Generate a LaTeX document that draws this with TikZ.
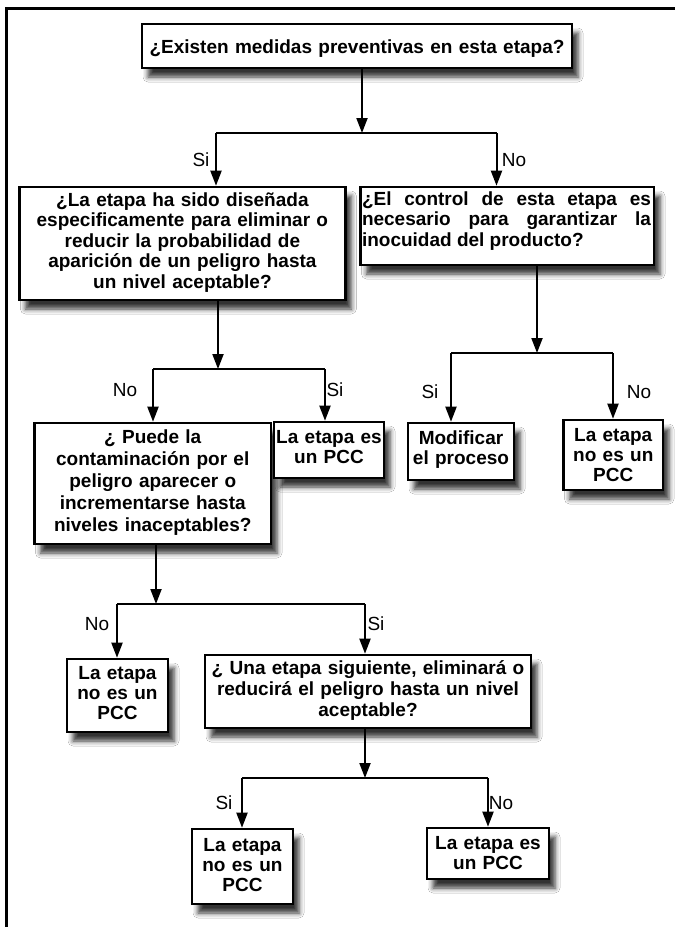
\documentclass[tikz,border=0pt]{standalone}
\usepackage{fontspec}
\setmainfont{Liberation Sans}
\usetikzlibrary{arrows.meta,shadows.blur}
\hyphenpenalty=10000
\exhyphenpenalty=10000
\tolerance=10000
\begin{document}
\begin{tikzpicture}[x=1pt,y=-1pt,
  box/.style={draw=black, line width=2.6pt, fill=white, inner sep=0pt,
    blur shadow={shadow xshift=6pt, shadow yshift=-9pt,
      shadow blur radius=5pt, shadow opacity=80}},
  boxtext/.style={inner sep=0pt, anchor=base, align=center,
    font=\bfseries\fontsize{19}{#1}\selectfont},
  boxtext/.default=20,
  lab/.style={inner sep=0pt, font=\fontsize{19}{20}\selectfont},
  conn/.style={line width=2pt},
  arr/.style={conn, -{Triangle[length=15pt,width=11pt]}},
  frame/.style={line width=3pt}
]
\useasboundingbox (0,0) rectangle (675,927);
\fill[white] (0,0) rectangle (675,927);

% outer frame (top and left edges only)
\draw[frame] (6.5,927) -- (6.5,8) -- (675,8);

% ---------- boxes ----------
\node[box, minimum width=430pt, minimum height=44pt] (b1) at (357,46) {};
\node[boxtext, text width=430pt] (b1t) at (357,53)
  {¿Existen medidas preventivas en esta etapa?};

\node[box, minimum width=326pt, minimum height=113pt] (b2) at (182.4,243.5) {};
\node[boxtext=20.5, text width=326pt] (b2t) at (182.4,206)
  {¿La etapa ha sido diseñada\\
   especificamente para eliminar o\\
   reducir la probabilidad de\\
   aparición de un peligro hasta\\
   un nivel aceptable?};

\node[box, minimum width=293.5pt, minimum height=78pt] (b3) at (507.25,226) {};
\node[boxtext=20.5, align=justify, text width=289pt] (b3t) at (506.5,205)
  {¿El control de esta etapa es necesario para garantizar la inocuidad del producto?};

\node[box, minimum width=236.5pt, minimum height=121pt] (b4) at (152.75,483.5) {};
\node[boxtext=22, text width=236.5pt] (b4t) at (152.75,443)
  {¿ Puede la\\ contaminación por el\\ peligro aparecer o\\
   incrementarse hasta\\ niveles inaceptables?};

\node[box, minimum width=110pt, minimum height=56pt] (b5) at (329,450) {};
\node[boxtext, text width=110pt] (b5t) at (329,443) {La etapa es\\ un PCC};

\node[box, minimum width=106pt, minimum height=57pt] (b6) at (461,451.5) {};
\node[boxtext, text width=106pt] (b6t) at (461,444) {Modificar\\ el proceso};

\node[box, minimum width=99.5pt, minimum height=70pt] (b7) at (613.25,455) {};
\node[boxtext, text width=99.5pt] (b7t) at (613.25,441) {La etapa\\ no es un\\ PCC};

\node[box, minimum width=101pt, minimum height=73pt] (b8) at (117.5,695.5) {};
\node[boxtext, text width=101pt] (b8t) at (117.5,679) {La etapa\\ no es un\\ PCC};

\node[box, minimum width=326pt, minimum height=73pt] (b9) at (368,691.5) {};
\node[boxtext=21, text width=326pt] (b9t) at (368,674)
  {¿ Una etapa siguiente, eliminará o\\ reducirá el peligro hasta un nivel\\ aceptable?};

\node[box, minimum width=101pt, minimum height=75pt] (b10) at (242.5,866.5) {};
\node[boxtext, text width=101pt] (b10t) at (242.5,851) {La etapa\\ no es un\\ PCC};

\node[box, minimum width=122pt, minimum height=51pt] (b11) at (488,853.5) {};
\node[boxtext, text width=122pt] (b11t) at (488,849) {La etapa es\\ un PCC};

% ---------- branch points ----------
\coordinate (j1) at (362,133);
\coordinate (j1l) at (216,133);
\coordinate (j1r) at (496.5,133);

\coordinate (j2) at (218,369);
\coordinate (j2l) at (153,369);
\coordinate (j2r) at (325,369);

\coordinate (j3) at (537,353);
\coordinate (j3l) at (451,353);
\coordinate (j3r) at (613,353);

\coordinate (j4) at (156,604);
\coordinate (j4l) at (117,604);
\coordinate (j4r) at (365,604);

\coordinate (j5) at (365,778);
\coordinate (j5l) at (242,778);
\coordinate (j5r) at (488,778);

% ---------- connectors ----------
\draw[arr] (b1.south -| j1) -- (j1);
\draw[conn] (j1l) -- (j1r);
\draw[arr] (j1l) -- (j1l |- b2.north);
\draw[arr] (j1r) -- (j1r |- b3.north);

\draw[arr] (b2.south -| j2) -- (j2);
\draw[conn] (j2l) -- (j2r);
\draw[arr] (j2l) -- (j2l |- b4.north);
\draw[arr] (j2r) -- (j2r |- b5.north);

\draw[arr] (b3.south -| j3) -- (j3);
\draw[conn] (j3l) -- (j3r);
\draw[arr] (j3l) -- (j3l |- b6.north);
\draw[arr] (j3r) -- (j3r |- b7.north);

\draw[arr] (b4.south -| j4) -- (j4);
\draw[conn] (j4l) -- (j4r);
\draw[arr] (j4l) -- (j4l |- b8.north);
\draw[arr] (j4r) -- (j4r |- b9.north);

\draw[arr] (b9.south -| j5) -- (j5);
\draw[conn] (j5l) -- (j5r);
\draw[arr] (j5l) -- (j5l |- b10.north);
\draw[arr] (j5r) -- (j5r |- b11.north);

% ---------- branch labels ----------
\node[lab] (l1s) at (201,160) {Si};
\node[lab] (l1n) at (514,160) {No};
\node[lab] (l2n) at (125,390) {No};
\node[lab] (l2s) at (335,390) {Si};
\node[lab] (l3s) at (430,392) {Si};
\node[lab] (l3n) at (639,392) {No};
\node[lab] (l4n) at (97,624) {No};
\node[lab] (l4s) at (376,624) {Si};
\node[lab] (l5s) at (224,803) {Si};
\node[lab] (l5n) at (501,803) {No};
\end{tikzpicture}
\end{document}
